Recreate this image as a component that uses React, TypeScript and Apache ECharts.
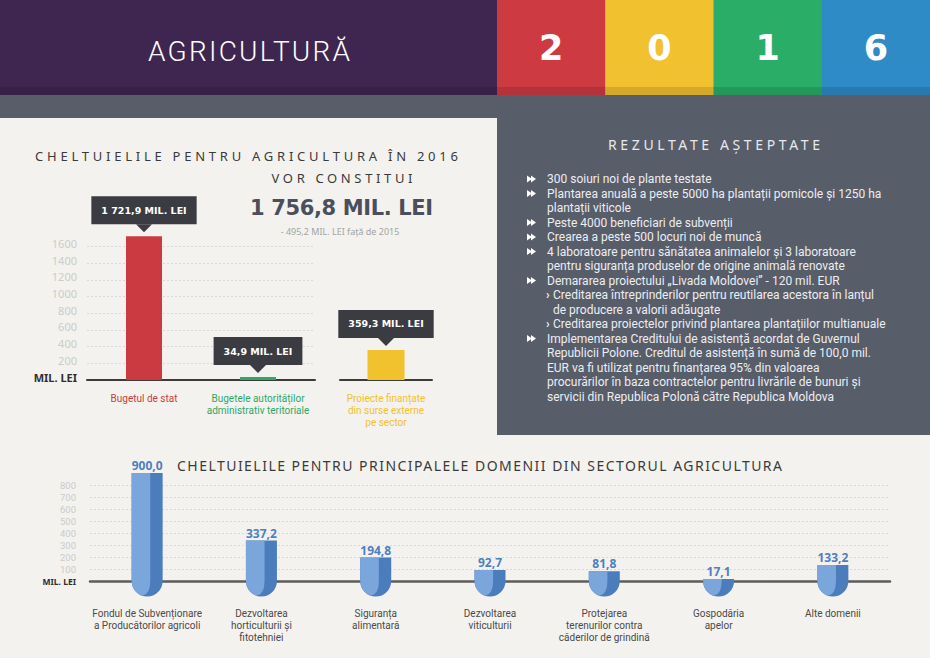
import React, { useEffect, useRef } from 'react';
import * as echarts from 'echarts';

// ---------- data ----------
const headerTitle = 'AGRICULTURĂ';
const yearDigits = ['2', '0', '1', '6'];
const yearColors = ['#cd3a41', '#f2c12f', '#2aad67', '#2e8bc6'];

const topTitle1 = 'CHELTUIELILE PENTRU AGRICULTURA ÎN 2016';
const topTitle2 = 'VOR CONSTITUI';
const totalText = '1 756,8 MIL. LEI';
const diffText = '- 495,2 MIL. LEI față de 2015';

const budgetCategories = ['Bugetul de stat', 'Bugetele autorităților\nadministrativ teritoriale'];
const budgetValues = [1721.9, 34.9];
const budgetColors = ['#cc3a41', '#2fa866'];
const externalCategories = ['Proiecte finanțate\ndin surse externe\npe sector'];
const externalValues = [359.3];
const externalColors = ['#f2c12e'];
const budgetAxisMin = 0;
const budgetAxisMax = 1600;
const budgetAxisStep = 200;
const unitLabel = 'MIL. LEI';

const resultsTitle = 'REZULTATE AȘTEPTATE';
const resultLines: { kind: 'bullet' | 'cont' | 'sub' | 'subcont'; text: string }[] = [
  { kind: 'bullet', text: '300 soiuri noi de plante testate' },
  { kind: 'bullet', text: 'Plantarea anuală a peste 5000 ha plantații pomicole și 1250 ha' },
  { kind: 'cont', text: 'plantații viticole' },
  { kind: 'bullet', text: 'Peste 4000 beneficiari de subvenții' },
  { kind: 'bullet', text: 'Crearea a peste 500 locuri noi de muncă' },
  { kind: 'bullet', text: '4 laboratoare pentru sănătatea animalelor și 3 laboratoare' },
  { kind: 'cont', text: 'pentru siguranța produselor de origine animală renovate' },
  { kind: 'bullet', text: 'Demararea proiectului „Livada Moldovei” - 120 mil. EUR' },
  { kind: 'sub', text: 'Creditarea întreprinderilor pentru reutilarea acestora în lanțul' },
  { kind: 'subcont', text: 'de producere a valorii adăugate' },
  { kind: 'sub', text: 'Creditarea proiectelor privind plantarea plantațiilor multianuale' },
  { kind: 'bullet', text: 'Implementarea Creditului de asistență acordat de Guvernul' },
  { kind: 'cont', text: 'Republicii Polone. Creditul de asistență în sumă de 100,0 mil.' },
  { kind: 'cont', text: 'EUR va fi utilizat pentru finanțarea 95% din valoarea' },
  { kind: 'cont', text: 'procurărilor în baza contractelor pentru livrările de bunuri și' },
  { kind: 'cont', text: 'servicii din Republica Polonă către Republica Moldova' },
];

const bottomTitle = 'CHELTUIELILE PENTRU PRINCIPALELE DOMENII DIN SECTORUL AGRICULTURA';
const domainCategories = [
  'Fondul de Subvenționare\na Producătorilor agricoli',
  'Dezvoltarea\nhorticulturii și\nfitotehniei',
  'Siguranța\nalimentară',
  'Dezvoltarea\nviticulturii',
  'Protejarea\nterenurilor contra\ncăderilor de grindină',
  'Gospodăria\napelor',
  'Alte domenii',
];
const domainValues = [900.0, 337.2, 194.8, 92.7, 81.8, 17.1, 133.2];
const domainAxisMin = 0;
const domainAxisMax = 800;
const domainAxisStep = 100;

// ---------- styling ----------
const FONT = '"Noto Sans", "Open Sans", sans-serif';
const BODY_FONT = 'Roboto, "Noto Sans", sans-serif';
const BOLD_FONT = '"DejaVu Sans", sans-serif';
const CREAM = '#f4f2ee';
const SLATE = '#585d6a';
const PURPLE = '#3f2651';
const CALLOUT = '#3b3c41';
const TUBE_LIGHT = '#7ba6db';
const TUBE_DARK = '#4b7dbd';

// target widths (px) for letter-spaced headings
const SPACED: Record<string, number> = {
  [headerTitle]: 202,
  [topTitle1]: 423,
  [topTitle2]: 141,
  [totalText]: 183,
  [resultsTitle]: 212,
  [bottomTitle]: 605,
};

const fmt = (v: number) => {
  const [i, d] = v.toFixed(1).split('.');
  return i.replace(/\B(?=(\d{3})+(?!\d))/g, ' ') + ',' + d;
};

function applySpacing(root: HTMLElement) {
  root.querySelectorAll('text').forEach((node) => {
    const t = node as SVGTextElement;
    const content = t.textContent || '';
    const target = SPACED[content];
    if (target == null) return;
    t.removeAttribute('letter-spacing');
    let ox = t.getAttribute('data-ox');
    if (ox == null) {
      ox = t.getAttribute('x') || '0';
      t.setAttribute('data-ox', ox);
    }
    t.setAttribute('x', ox);
    const natural = t.getComputedTextLength();
    const n = Array.from(content).length;
    const ls = (target - natural) / Math.max(1, n - 1);
    t.setAttribute('letter-spacing', ls.toFixed(2));
    const anchor = t.getAttribute('text-anchor') || (t.style && t.style.textAnchor) || '';
    if (anchor === 'middle') {
      t.setAttribute('x', String(parseFloat(ox) + ls / 2));
    }
  });
}

function txt(text: string, x: number, y: number, font: string, fill: string, align = 'center') {
  return {
    type: 'text',
    silent: true,
    x,
    y,
    style: {
      text,
      fill,
      font,
      textAlign: align,
      textVerticalAlign: 'middle',
      align,
      verticalAlign: 'middle',
    },
  };
}

function buildGraphics() {
  const g: any[] = [];
  // header backgrounds
  g.push({ type: 'rect', silent: true, shape: { x: 0, y: 0, width: 497, height: 95 }, style: { fill: PURPLE } });
  const blockW = (930 - 497) / yearDigits.length;
  yearDigits.forEach((d, i) => {
    g.push({
      type: 'rect',
      silent: true,
      shape: { x: 497 + i * blockW, y: 0, width: blockW + 0.5, height: 95 },
      style: { fill: yearColors[i] },
    });
  });
  g.push({ type: 'rect', silent: true, shape: { x: 0, y: 87, width: 930, height: 8 }, style: { fill: 'rgba(0,0,0,0.12)' } });
  g.push({ type: 'rect', silent: true, shape: { x: 0, y: 95, width: 930, height: 23 }, style: { fill: SLATE } });
  g.push({ type: 'rect', silent: true, shape: { x: 497, y: 118, width: 433, height: 317 }, style: { fill: SLATE } });

  // header texts
  g.push(txt(headerTitle, 249, 51, '300 28px Roboto', '#ffffff'));
  yearDigits.forEach((d, i) => {
    g.push(txt(d, 497 + blockW * (i + 0.5), 48, 'bold 35px "DejaVu Sans"', '#ffffff'));
  });

  // left top titles
  g.push(txt(topTitle1, 246.5, 156, '13px ' + FONT, '#3a3a3a'));
  g.push(txt(topTitle2, 342, 178, '13px ' + FONT, '#3a3a3a'));
  g.push(txt(totalText, 341.5, 208, 'bold 21px ' + BOLD_FONT, '#4b4f5b'));
  g.push(txt(diffText, 340, 231, '9px ' + FONT, '#a3a3a3'));

  // right panel
  g.push(txt(resultsTitle, 714, 144, '14px ' + FONT, '#e8e9ec'));
  resultLines.forEach((line, i) => {
    const y = 179 + i * 14.5;
    if (line.kind === 'bullet') {
      g.push({ type: 'polygon', silent: true, shape: { points: [[527, y - 3.5], [532, y], [527, y + 3.5]] }, style: { fill: '#ffffff' } });
      g.push({ type: 'polygon', silent: true, shape: { points: [[531, y - 3.5], [536, y], [531, y + 3.5]] }, style: { fill: '#ffffff' } });
    }
    if (line.kind === 'sub') {
      g.push(txt('›', 546, y - 0.5, 'bold 12px ' + BODY_FONT, '#eceef2', 'left'));
    }
    const x = line.kind === 'sub' || line.kind === 'subcont' ? 553 : 547;
    g.push(txt(line.text, x, y, '12px ' + BODY_FONT, '#eceef2', 'left'));
  });

  // bottom title
  g.push(txt(bottomTitle, 177, 465, '14px ' + FONT, '#3a3a3a', 'left'));
  return g;
}

const tubeRender = (params: any, api: any) => {
  const idx = api.value(0);
  const val = api.value(1);
  const top = api.coord([idx, val]);
  const base = api.coord([idx, 0]);
  const cx = top[0];
  const yTop = top[1];
  const y0 = base[1];
  const w = 31;
  const r = w / 2;
  const left = cx - r;
  const right = cx + r;
  const sx = left + 0.6 * w;
  const darkPath = `M${left},${yTop}L${right},${yTop}L${right},${y0}A${r},${r},0,0,1,${left},${y0}Z`;
  const lightPath =
    `M${left},${yTop}L${sx},${yTop}L${sx},${y0}` +
    `Q${sx},${y0 + 0.85 * r},${cx - 0.3 * r},${y0 + 0.954 * r}` +
    `A${r},${r},0,0,1,${left},${y0}Z`;
  return {
    type: 'group',
    children: [
      { type: 'path', shape: { pathData: darkPath }, style: { fill: TUBE_DARK } },
      { type: 'path', shape: { pathData: lightPath }, style: { fill: TUBE_LIGHT } },
      {
        type: 'text',
        x: cx,
        y: yTop - 7.5,
        style: {
          text: fmt(val),
          fill: '#4e7fbf',
          font: 'bold 12px "Open Sans"',
          textAlign: 'center',
          textVerticalAlign: 'middle',
          align: 'center',
          verticalAlign: 'middle',
        },
      },
    ],
  };
};

function calloutLabel() {
  return {
    show: true,
    position: 'top',
    distance: 12,
    formatter: (p: any) => fmt(p.value) + ' ' + unitLabel,
    backgroundColor: CALLOUT,
    color: '#ffffff',
    fontFamily: BOLD_FONT,
    fontWeight: 'bold',
    fontSize: 9.5,
    lineHeight: 10,
    padding: [9, 10],
  };
}

function pointer(xi: number, values: number[]) {
  return {
    type: 'scatter',
    xAxisIndex: xi,
    yAxisIndex: xi,
    data: values,
    symbol: 'path://M0,0L16,0L8,8Z',
    symbolSize: [16, 8],
    symbolOffset: [0, -8],
    itemStyle: { color: CALLOUT, opacity: 1 },
    clip: false,
    silent: true,
    z: 5,
  };
}

function buildOption() {
  const gridTop = 246.4;
  const gridH = 133.6;
  const yLabel = (size: number, unitSize: number, family: string) => ({
    color: '#cbcbcb',
    fontSize: size,
    fontFamily: family,
    formatter: (v: number) => (v === 0 ? '{u|' + unitLabel + '}' : String(v)),
    rich: { u: { fontWeight: 'bold', color: '#2f2f2f', fontSize: unitSize, fontFamily: FONT } },
  });
  const split = { show: true, showMinLine: false, lineStyle: { color: '#dcd9d2', type: [2, 2], width: 1 } };
  const catLabel = { fontSize: 10, lineHeight: 12, interval: 0, fontFamily: BODY_FONT };
  return {
    animation: false,
    backgroundColor: CREAM,
    textStyle: { fontFamily: FONT },
    grid: [
      { left: 87, top: gridTop, width: 228, height: gridH },
      { left: 340, top: gridTop, width: 92, height: gridH },
      { left: 90, top: 485, width: 800, height: 96 },
    ],
    xAxis: [
      {
        gridIndex: 0,
        type: 'category',
        data: budgetCategories.map((c, i) => ({ value: c, textStyle: { color: budgetColors[i] } })),
        axisTick: { show: false },
        axisLine: { lineStyle: { color: '#3b3b3b', width: 2 } },
        axisLabel: { ...catLabel, margin: 12 },
      },
      {
        gridIndex: 1,
        type: 'category',
        data: externalCategories.map((c, i) => ({ value: c, textStyle: { color: externalColors[i] } })),
        axisTick: { show: false },
        axisLine: { lineStyle: { color: '#3b3b3b', width: 2 } },
        axisLabel: { ...catLabel, margin: 12 },
      },
      {
        gridIndex: 2,
        type: 'category',
        data: domainCategories,
        axisTick: { show: false },
        axisLine: { lineStyle: { color: '#5e5c59', width: 2.5 } },
        axisLabel: { ...catLabel, margin: 26, color: '#4a4a4a' },
      },
    ],
    yAxis: [
      {
        gridIndex: 0,
        type: 'value',
        min: budgetAxisMin,
        max: budgetAxisMax,
        interval: budgetAxisStep,
        axisLine: { show: false },
        axisTick: { show: false },
        axisLabel: { ...yLabel(11, 11, FONT), padding: [0, 0, 6, 0], margin: 10 },
        splitLine: split,
      },
      {
        gridIndex: 1,
        type: 'value',
        min: budgetAxisMin,
        max: budgetAxisMax,
        interval: budgetAxisStep,
        show: false,
        splitLine: { show: false },
      },
      {
        gridIndex: 2,
        type: 'value',
        min: domainAxisMin,
        max: domainAxisMax,
        interval: domainAxisStep,
        axisLine: { show: false },
        axisTick: { show: false },
        axisLabel: { ...yLabel(9.5, 8.5, BODY_FONT), margin: 14 },
        splitLine: split,
      },
    ],
    series: [
      {
        type: 'bar',
        xAxisIndex: 0,
        yAxisIndex: 0,
        data: budgetValues.map((v, i) => ({ value: v, itemStyle: { color: budgetColors[i] } })),
        barWidth: 36,
        clip: false,
        silent: true,
        label: calloutLabel(),
      },
      pointer(0, budgetValues),
      {
        type: 'bar',
        xAxisIndex: 1,
        yAxisIndex: 1,
        data: externalValues.map((v, i) => ({ value: v, itemStyle: { color: externalColors[i] } })),
        barWidth: 37,
        clip: false,
        silent: true,
        label: calloutLabel(),
      },
      pointer(1, externalValues),
      {
        type: 'custom',
        xAxisIndex: 2,
        yAxisIndex: 2,
        data: domainValues.map((v, i) => [i, v]),
        encode: { x: 0, y: 1 },
        renderItem: tubeRender,
        clip: false,
        silent: true,
        z: 3,
      },
    ],
    graphic: { elements: buildGraphics() },
  };
}

export default function App() {
  const ref = useRef<HTMLDivElement>(null);
  useEffect(() => {
    const el = ref.current;
    if (!el) return;
    const chart = echarts.init(el, null, { renderer: 'svg' });
    chart.setOption(buildOption() as any);
    const fix = () => applySpacing(el);
    fix();
    chart.on('finished', fix);
    return () => chart.dispose();
  }, []);
  return (
    <div
      ref={ref}
      style={{ position: 'fixed', left: 0, top: 0, width: 930, height: 658 }}
    />
  );
}
